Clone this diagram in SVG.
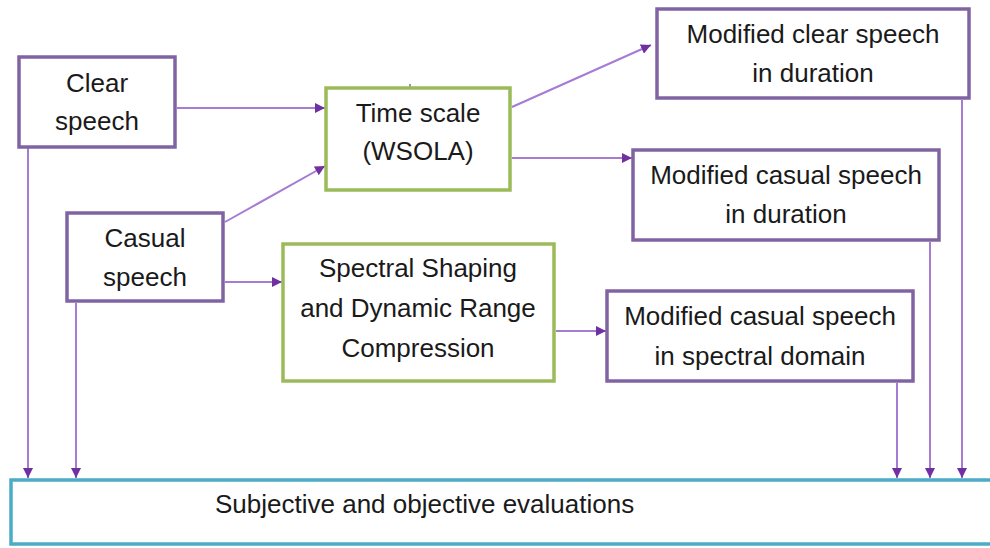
<svg xmlns="http://www.w3.org/2000/svg" width="990" height="548" viewBox="0 0 990 548">
<defs>
<style>
.p{fill:#fff;stroke:#8064A2;stroke-width:3.5}
.g{fill:#fff;stroke:#9BBB59;stroke-width:3.5}
.b{fill:#fff;stroke:#4BACC6;stroke-width:3.5}
text{font-family:"Liberation Sans",Arial,sans-serif;font-size:26px;fill:#1a1a1a;text-anchor:middle}
.c{fill:none;stroke:#A57BD4;stroke-width:2;marker-end:url(#ah)}
</style>
<marker id="ah" viewBox="0 0 10 10" refX="10" refY="5" markerWidth="10" markerHeight="10" markerUnits="userSpaceOnUse" orient="auto">
<path d="M0,0 L10,5 L0,10 Z" fill="#7030A0"/>
</marker>
</defs>
<rect width="990" height="548" fill="#fff"/>
<g id="connectors">
<line class="c" x1="177" y1="108" x2="325" y2="108"/>
<line class="c" x1="225" y1="222" x2="325" y2="166"/>
<line class="c" x1="225" y1="282" x2="282" y2="282"/>
<line class="c" x1="512" y1="107" x2="651" y2="45"/>
<line class="c" x1="512" y1="158" x2="632" y2="158"/>
<line class="c" x1="556" y1="331" x2="606" y2="331"/>
<line class="c" x1="28" y1="148" x2="28" y2="478"/>
<line class="c" x1="76" y1="303" x2="76" y2="478"/>
<line class="c" x1="897" y1="383" x2="897" y2="478"/>
<line class="c" x1="930" y1="242" x2="930" y2="478"/>
<line class="c" x1="962" y1="100" x2="962" y2="478"/>
<line x1="410" y1="84" x2="410" y2="88" stroke="#8064A2" stroke-width="1.5"/>
</g>
<g id="clear">
<rect class="p" x="19" y="57" width="156" height="90"/>
<text x="97" y="92">Clear</text>
<text x="97" y="130">speech</text>
</g>
<g id="casual">
<rect class="p" x="67" y="213" width="156" height="88"/>
<text x="145" y="247">Casual</text>
<text x="145" y="286">speech</text>
</g>
<g id="timescale">
<rect class="g" x="326" y="88" width="184" height="102"/>
<text x="418" y="122">Time scale</text>
<text x="418" y="160">(WSOLA)</text>
</g>
<g id="spectral">
<rect class="g" x="283" y="244" width="271" height="137"/>
<text x="418" y="277">Spectral Shaping</text>
<text x="418" y="317">and Dynamic Range</text>
<text x="418" y="357">Compression</text>
</g>
<g id="modclear">
<rect class="p" x="657" y="9" width="312" height="89"/>
<text x="813" y="43">Modified clear speech</text>
<text x="813" y="82">in duration</text>
</g>
<g id="modcasualdur">
<rect class="p" x="633" y="150" width="306" height="90"/>
<text x="786" y="184">Modified casual speech</text>
<text x="786" y="223">in duration</text>
</g>
<g id="modcasualspec">
<rect class="p" x="607" y="291" width="306" height="90"/>
<text x="760" y="325">Modified casual speech</text>
<text x="760" y="365">in spectral domain</text>
</g>
<g id="evaluations">
<rect class="b" x="11" y="480" width="995" height="64"/>
<text x="215" y="513" style="text-anchor:start">Subjective and objective evaluations</text>
</g>
</svg>
